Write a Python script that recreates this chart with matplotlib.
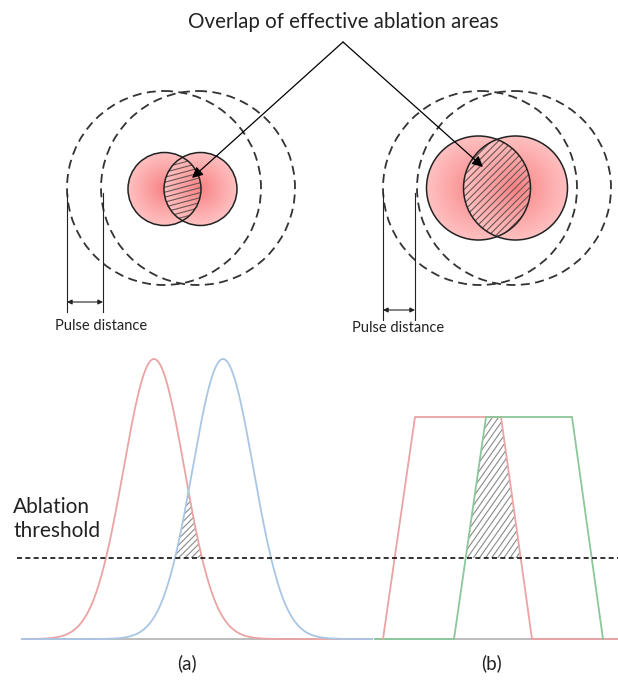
import matplotlib.pyplot as plt
import numpy as np
from matplotlib.patches import Circle, Polygon
from matplotlib.collections import LineCollection

plt.rcParams['font.family'] = ['Lato', 'DejaVu Sans']

# top panels: dashed pulse circles (cx, cy, r) and effective ablation spots
left_pulses = [(164, 188, 97), (198, 188, 97)]
left_spots = [(164.5, 189, 36.5), (200.5, 189, 36.5)]
right_pulses = [(480, 188, 97), (514, 188, 97)]
right_spots = [(478.5, 188, 52), (515.5, 188, 52)]

# pulse-distance markers: x of the two guide lines, arrow height, label position
left_marker = [67, 103, 302, 55, 326]
right_marker = [383, 415, 310, 352, 328]

# (a) gaussian profiles: peak x, sigma
gauss_centers = [154, 223]
gauss_sigma = 30.5
gauss_colors = ['#eba3a3', '#a9c6e4']

# (b) top-hat profiles: x of bottom-left, top-left, top-right, bottom-right
hat_red = [383, 415, 501, 532]
hat_green = [454, 486, 572, 603]
hat_top = 417

baseline_y = 639
peak_y = 359
threshold_y = 558

title_xy = (343, 22)
apex = (343, 42)
arrow_tips = [(192, 178), (483, 167)]

fig = plt.figure(figsize=(6.18, 6.8), dpi=100)
ax = fig.add_axes([0, 0, 1, 1])
ax.set_xlim(0, 618)
ax.set_ylim(680, 0)
ax.axis('off')


def hatch(verts, angle, spacing, color, lw=0.8, z=4):
    verts = np.asarray(verts)
    clip = Polygon(verts, closed=True, transform=ax.transData)
    cx, cy = verts.mean(axis=0)
    span = np.ptp(verts, axis=0).max() + 10
    a = np.deg2rad(angle)
    d = np.array([np.cos(a), -np.sin(a)])
    n = np.array([np.sin(a), np.cos(a)])
    segs = []
    for k in np.arange(-span, span, spacing):
        c = np.array([cx, cy]) + k * n
        segs.append([c - span * d, c + span * d])
    lc = LineCollection(segs, colors=color, linewidths=lw, zorder=z)
    ax.add_collection(lc)
    lc.set_clip_path(clip)


def lens(spots):
    (x1, y1, r1), (x2, y2, r2) = spots
    dist = x2 - x1
    xi = (dist ** 2 + r1 ** 2 - r2 ** 2) / (2 * dist)
    a1 = np.arccos(xi / r1)
    a2 = np.arccos((dist - xi) / r2)
    t1 = np.linspace(-a1, a1, 60)
    t2 = np.linspace(np.pi - a2, np.pi + a2, 60)
    arc1 = np.column_stack([x1 + r1 * np.cos(t1), y1 + r1 * np.sin(t1)])
    arc2 = np.column_stack([x2 + r2 * np.cos(t2), y2 + r2 * np.sin(t2)])
    return np.vstack([arc1, arc2])


def radial_fill(cx, cy, r, z):
    n = 200
    yy, xx = np.mgrid[-1:1:n * 1j, -1:1:n * 1j]
    d = np.clip(np.hypot(xx, yy), 0, 1)
    c0 = np.array([248, 128, 130]) / 255
    c1 = np.array([255, 192, 192]) / 255
    img = c0 + (c1 - c0) * d[..., None] ** 0.9
    im = ax.imshow(img, extent=(cx - r, cx + r, cy + r, cy - r), zorder=z,
                   interpolation='bilinear')
    im.set_clip_path(Circle((cx, cy), r, transform=ax.transData))


def spot_pair(spots, angle, spacing):
    (x1, y1, r1), (x2, y2, r2) = spots
    radial_fill(x1, y1, r1, 2)
    radial_fill(x2, y2, r2, 3)
    hatch(lens(spots), angle, spacing, '#6b5555', lw=0.8)
    for cx, cy, r in spots:
        ax.add_patch(Circle((cx, cy), r, facecolor='none', edgecolor='#222222',
                            lw=1.1, zorder=5))


def pulses(circles):
    for cx, cy, r in circles:
        ax.add_patch(Circle((cx, cy), r, facecolor='none', edgecolor='#333333',
                            lw=1.3, ls=(0, (5, 3)), zorder=1))


def distance_marker(m, cy):
    xa, xb, ya, tx, ty = m
    for x in (xa, xb):
        ax.plot([x, x], [cy + 5, ya + 10], color='#222222', lw=0.8)
    ax.annotate('', xy=(xa, ya), xytext=(xb, ya),
                arrowprops=dict(arrowstyle='<|-|>', lw=0.8, color='#222222',
                                mutation_scale=7, shrinkA=0, shrinkB=0))
    ax.text(tx, ty, 'Pulse distance', fontsize=10.5, ha='left', va='center',
            color='#222222')


pulses(left_pulses)
pulses(right_pulses)
spot_pair(left_spots, 15, 4.8)
spot_pair(right_spots, 45, 5.0)
distance_marker(left_marker, 188)
distance_marker(right_marker, 188)

ax.text(title_xy[0], title_xy[1], 'Overlap of effective ablation areas',
        fontsize=14.8, ha='center', va='center', color='#222222')
for tip in arrow_tips:
    ax.annotate('', xy=tip, xytext=apex,
                arrowprops=dict(arrowstyle='-|>', lw=0.9, color='black',
                                mutation_scale=16, shrinkA=0, shrinkB=0),
                zorder=6)

# (a) gaussian profiles
xs = np.linspace(22, 372, 700)
height = baseline_y - peak_y
profiles = []
ax.plot([22, 315], [baseline_y, baseline_y], color='#b0b0b0', lw=1.2, zorder=1)
for c, col in zip(gauss_centers, gauss_colors):
    p = height * np.exp(-(xs - c) ** 2 / (2 * gauss_sigma ** 2))
    profiles.append(p)
    ax.plot(xs, baseline_y - p, color=col, lw=1.3, zorder=2)
low = np.minimum(profiles[0], profiles[1])
thr = baseline_y - threshold_y
sel = low > thr
top_edge = np.column_stack([xs[sel], baseline_y - low[sel]])
region_a = np.vstack([[[xs[sel][0], threshold_y]], top_edge,
                      [[xs[sel][-1], threshold_y]]])
hatch(region_a, 45, 4.5, '#8a8a8a', lw=0.8, z=1)
ax.text(13, 519, 'Ablation\nthreshold', fontsize=15, ha='left', va='center',
        color='#222222', linespacing=1.2)
ax.text(187, 663, '(a)', fontsize=13.5, ha='center', va='center', color='#222222')

# (b) top-hat profiles
ax.plot([375, 618], [baseline_y, baseline_y], color='#b0b0b0', lw=1.2, zorder=1)
ax.plot([375, hat_green[0]], [baseline_y, baseline_y], color='#8cc79a', lw=1.3, zorder=2)
ax.plot([hat_red[3], 618], [baseline_y, baseline_y], color='#eba3a3', lw=1.3, zorder=2)
for xv, col in ((hat_red, '#eba3a3'), (hat_green, '#8cc79a')):
    ax.plot(xv, [baseline_y, hat_top, hat_top, baseline_y], color=col, lw=1.3, zorder=3)


def edge_x(x0, x1, y):
    return x0 + (x1 - x0) * (baseline_y - y) / (baseline_y - hat_top)


region_b = [(edge_x(hat_green[0], hat_green[1], threshold_y), threshold_y),
            (hat_green[1], hat_top), (hat_red[2], hat_top),
            (edge_x(hat_red[3], hat_red[2], threshold_y), threshold_y)]
hatch(region_b, 55, 5.0, '#8a8a8a', lw=0.8, z=1)
ax.text(492, 663, '(b)', fontsize=13.5, ha='center', va='center', color='#222222')

# ablation threshold line across both panels
ax.plot([17, 618], [threshold_y, threshold_y], color='#111111', lw=1.2,
        ls=(0, (3, 2)), zorder=4)

plt.savefig('out.png', dpi=100)
plt.close()
